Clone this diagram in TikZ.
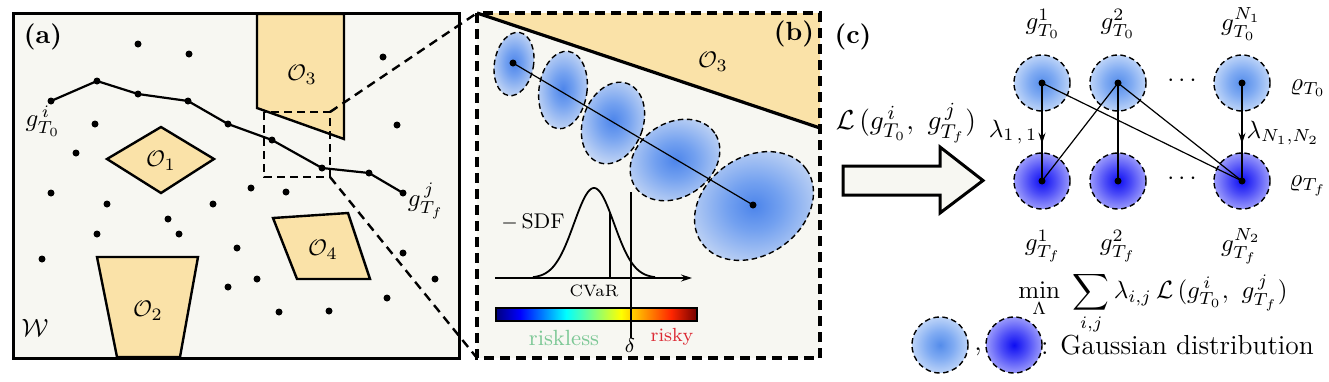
\documentclass[tikz,border=0pt]{standalone}
\usepackage{amsmath,amssymb}
\usetikzlibrary{arrows.meta,decorations.markings,shapes.geometric}
\definecolor{bgc}{RGB}{247,247,242}
\definecolor{obs}{RGB}{250,226,168}
\definecolor{lessc}{RGB}{125,200,150}
\definecolor{riskc}{RGB}{220,40,50}
\definecolor{jet0}{rgb}{0,0,0.5}
\definecolor{jet1}{rgb}{0,0,1}
\definecolor{jet2}{rgb}{0,1,1}
\definecolor{jet3}{rgb}{1,1,0}
\definecolor{jet4}{rgb}{1,0.15,0}
\definecolor{jet5}{rgb}{0.45,0,0}
\pgfdeclareradialshading{gaussB}{\pgfpoint{0bp}{0bp}}{rgb(0bp)=(0.30,0.52,0.92); rgb(10bp)=(0.45,0.63,0.94); rgb(28bp)=(0.80,0.86,0.96); rgb(46bp)=(0.97,0.97,0.95); rgb(50bp)=(0.97,0.97,0.95)}
\pgfdeclareradialshading{gaussT}{\pgfpoint{0bp}{0bp}}{rgb(0bp)=(0.33,0.55,0.92); rgb(12bp)=(0.50,0.67,0.95); rgb(30bp)=(0.83,0.89,0.98); rgb(46bp)=(1,1,1); rgb(50bp)=(1,1,1)}
\pgfdeclareradialshading{gaussD}{\pgfpoint{0bp}{0bp}}{rgb(0bp)=(0.05,0.05,0.95); rgb(12bp)=(0.30,0.30,0.97); rgb(30bp)=(0.72,0.72,0.99); rgb(46bp)=(1,1,1); rgb(50bp)=(1,1,1)}
\begin{document}
\begin{tikzpicture}[x=1pt,y=-1pt,font=\fontsize{9}{11}\selectfont,
  obst/.style={draw,fill=obs,line width=2.4pt,line join=miter},
  pt/.style={circle,fill,inner sep=0pt,minimum size=7pt},
  trail/.style={line width=2.2pt},
  zoomline/.style={line width=2.4pt,dash pattern=on 9pt off 6pt},
  gb/.style={draw,dash pattern=on 5.5pt off 3.5pt,line width=1.4pt,ellipse,shade,shading=gaussB,inner sep=0pt},
  gc/.style={draw,dash pattern=on 5.5pt off 3.5pt,line width=1.4pt,circle,shade,inner sep=0pt,minimum size=56pt},
  edge/.style={line width=1.2pt},
  lbl/.style={inner sep=0.2pt,scale=2.5},
  fs/.style={font=\fontsize{#1}{#1}\selectfont}]
\useasboundingbox (0,0) rectangle (1329,381);

% ---------- panel (a)
\fill[bgc] (13,13) rectangle (459,358);
\draw[obst] (257,14) -- (344,14) -- (344,139) -- (257,108) -- cycle;
\draw[obst] (107,159) -- (161,127) -- (214,159) -- (161,193) -- cycle;
\draw[obst] (97,257) -- (198,257) -- (180,357) -- (117,357) -- cycle;
\draw[obst] (273,218) -- (348,213) -- (370,279) -- (297,279) -- cycle;
\node[lbl,fs=9.5] (o3a) at (302,75) {$\mathcal{O}_3$};
\node[lbl,fs=9.5] (o1) at (161,161) {$\mathcal{O}_1$};
\node[lbl,fs=9.5] (o2) at (148,311) {$\mathcal{O}_2$};
\node[lbl,fs=9.5] (o4) at (323,250) {$\mathcal{O}_4$};

\foreach \x/\y [count=\i] in {138/44,189/54,383/57,95/124,397/125,76/153,51/193,107/204,213/204,251/188,286/192,168/219,97/234,179/234,237/248,42/259,403/253,257/279,228/287,435/279,387/298,279/312,329/311}
  \node[pt] (d\i) at (\x,\y) {};

\foreach \x/\y [count=\i] in {51/101,97/81,138/94,188/101,228/124,272/140,322/168,369/173,403/193}
  \node[pt] (p\i) at (\x,\y) {};
\draw[trail] (p1.center) -- (p2.center) -- (p3.center) -- (p4.center) -- (p5.center) -- (p6.center) -- (p7.center) -- (p8.center) -- (p9.center);

\node[lbl,fs=10] (gi) at (43,121) {$g^{\,i}_{T_0}$};
\node[lbl,fs=10] (gj) at (426,201) {$g^{\,j}_{T_f}$};
\node[lbl,fs=10] (W) at (35,328) {$\mathcal{W}$};
\node[lbl,fs=10.5] (la) at (43,37) {\textbf{(a)}};

\draw[line width=2.2pt,dash pattern=on 8pt off 5pt] (264,112) rectangle (330,177);
\coordinate (zr1) at (330,112);
\coordinate (zr2) at (330,177);
\draw[line width=3pt] (13,13) rectangle (459,358);

% ---------- panel (b)
\fill[bgc] (477,13) rectangle (820,358);
\fill[obs] (477,13) -- (820,13) -- (820,128) -- cycle;
\coordinate (bl1) at (477,13);
\coordinate (bl2) at (477,358);
\draw[line width=3.2pt] (477,13) -- (820,128);
\node[lbl,fs=9.5] (o3b) at (713,62) {$\mathcal{O}_3$};
\node[lbl,fs=10.5] (lb) at (794,34) {\textbf{(b)}};

\node[gb,minimum width=39pt,minimum height=64pt,rotate=-10] (e1) at (514,64) {};
\node[gb,minimum width=48pt,minimum height=78pt,rotate=-8] (e2) at (563,90) {};
\node[gb,minimum width=60pt,minimum height=84pt,rotate=-20] (e3) at (613,123) {};
\node[gb,minimum width=96pt,minimum height=74pt,rotate=34] (e4) at (675,160) {};
\node[gb,minimum width=128pt,minimum height=98pt,rotate=35] (e5) at (754,206) {};
\node[pt] (s1) at (513,63) {};
\node[pt] (s2) at (753,205) {};
\draw[edge] (s1.center) -- (s2.center);

% SDF plot
\coordinate (ax0) at (495,278);
\coordinate (ax1) at (692,278);
\draw[line width=1.2pt,-{Stealth[length=11pt,width=7pt]}] (ax0) -- (ax1);
\draw[line width=1.8pt] plot[domain=533:655,samples=90,smooth] (\x,{278-90*exp(-((\x-594)/20)^2/2)});
\draw[line width=1.2pt] (610,278) -- (610,{278-90*exp(-((610-594)/20)^2/2)});
\node[lbl,fs=8.5] (sdf) at (533,222) {$-$\,SDF};
\node[lbl,fs=6.6] (cvar) at (594,291) {CVaR};
% colour bar
\shade[left color=jet0,right color=jet1] (496,308) rectangle (520,321);
\shade[left color=jet1,right color=jet2] (520,308) rectangle (566,321);
\shade[left color=jet2,right color=jet3] (566,308) rectangle (621,321);
\shade[left color=jet3,right color=jet4] (621,308) rectangle (671,321);
\shade[left color=jet4,right color=jet5] (671,308) rectangle (697,321);
\draw[line width=1.4pt] (496,308) rectangle (697,321);
\draw[line width=1.2pt] (631,192) -- (631,338);
\node[lbl,fs=8.8,text=lessc] (rl) at (564,338) {riskless};
\node[lbl,fs=7.6,text=riskc] (rk) at (672,337) {risky};
\node[lbl,fs=8] (dl) at (630,346) {$\delta$};

\draw[line width=3.2pt,dash pattern=on 10pt off 6pt] (477,13) rectangle (820,358);

% zoom lines
\draw[zoomline] (zr1) -- (bl1);
\draw[zoomline] (zr2) -- (bl2);

% ---------- panel (c)
\node[lbl,fs=10.5] (lc) at (853,37) {\textbf{(c)}};
\node[lbl,fs=11] (Lij) at (906,123) {$\mathcal{L}\,(g^{\,i}_{T_0},\ g^{\,j}_{T_f})$};
\draw[line width=3pt,fill=bgc,line join=miter] (843,166) -- (940,166) -- (940,147) -- (983,180.5) -- (940,213) -- (940,195) -- (843,195) -- cycle;

\node[gc,shading=gaussT] (t1) at (1042,83) {};
\node[gc,shading=gaussT] (t2) at (1118,83) {};
\node[gc,shading=gaussT] (tN) at (1242,83) {};
\node[gc,shading=gaussD] (b1) at (1042,181) {};
\node[gc,shading=gaussD] (b2) at (1118,181) {};
\node[gc,shading=gaussD] (bN) at (1242,181) {};
\foreach \n in {t1,t2,tN,b1,b2,bN} \node[pt] (c\n) at (\n.center) {};
\node[lbl,fs=10] (dt) at (1184,81) {$\cdots$};
\node[lbl,fs=10] (db) at (1184,179) {$\cdots$};

\draw[edge] (t1.center) -- (bN.center);
\draw[edge] (t2.center) -- (b1.center);
\draw[edge] (t2.center) -- (b2.center);
\draw[edge] (t2.center) -- (bN.center);
\draw[edge,postaction={decorate},decoration={markings,mark=at position 0.62 with {\arrow{Stealth[length=11pt,width=7pt]}}}] (t1.center) -- (b1.center);
\draw[edge,postaction={decorate},decoration={markings,mark=at position 0.62 with {\arrow{Stealth[length=11pt,width=7pt]}}}] (tN.center) -- (bN.center);

\node[lbl,fs=10] (l11) at (1013,132) {$\lambda_{1\,,\,1}$};
\node[lbl,fs=10] (lNN) at (1283,133) {$\lambda_{N_1,N_2}$};
\node[lbl,fs=10] (g1t) at (1043,24) {$g^{1}_{T_0}$};
\node[lbl,fs=10] (g2t) at (1118,24) {$g^{2}_{T_0}$};
\node[lbl,fs=10] (gNt) at (1241,24) {$g^{N_1}_{T_0}$};
\node[lbl,fs=10] (g1b) at (1043,246) {$g^{1}_{T_f}$};
\node[lbl,fs=10] (g2b) at (1118,246) {$g^{2}_{T_f}$};
\node[lbl,fs=10] (gNb) at (1241,246) {$g^{N_2}_{T_f}$};
\node[lbl,fs=10] (rho0) at (1308,88) {$\varrho_{T_0}$};
\node[lbl,fs=10] (rhof) at (1308,186) {$\varrho_{T_f}$};

\node[lbl,fs=10.2] (minf) at (1153,303) {$\displaystyle\min_{\Lambda}\ \sum_{i,j}\lambda_{i,j}\,\mathcal{L}\,(g^{\,i}_{T_0},\ g^{\,j}_{T_f})$};

\node[gc,shading=gaussT] (lg1) at (940,345) {};
\node[gc,shading=gaussD] (lg2) at (1014,345) {};
\node[lbl,fs=11] (comma) at (978,352) {,};
\node[lbl,fs=11,anchor=west] (gd) at (1040,345) {: Gaussian distribution};
\end{tikzpicture}
\end{document}
